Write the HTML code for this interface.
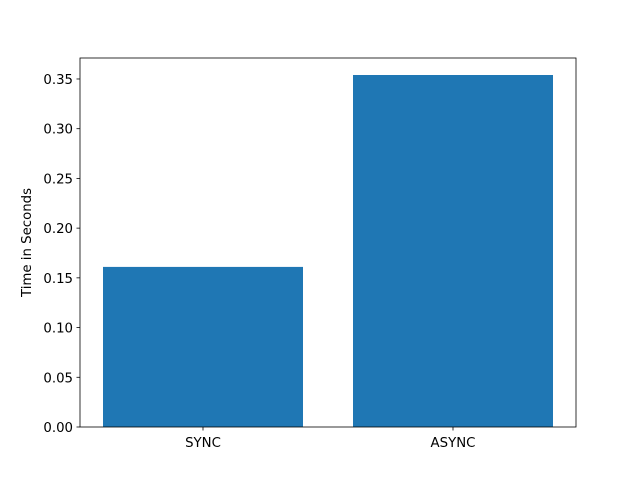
<!DOCTYPE html>
<html><head><meta charset="utf-8"><style>body{margin:0;background:#fff}svg text{font-family:"DejaVu Sans","Liberation Sans",sans-serif;font-size:13.3px;fill:#000}</style></head>
<body>
<svg id="chart" width="640" height="480" xmlns="http://www.w3.org/2000/svg"></svg>
<script>
const categories = ["SYNC", "ASYNC"];
const values = [0.161, 0.354];
const yTicks = [0, 0.05, 0.10, 0.15, 0.20, 0.25, 0.30, 0.35];
const yTickLabels = ["0.00","0.05","0.10","0.15","0.20","0.25","0.30","0.35"];

const svg = document.getElementById('chart');
const NS = 'http://www.w3.org/2000/svg';
const L=80,R=576,T=58,B=427;
const yMax=0.3711, xMin=-0.492, xMax=1.492;
const y = v => B - v/yMax*(B-T);
const x = v => L + (v-xMin)/(xMax-xMin)*(R-L);
function mk(tag, attrs){const e=document.createElementNS(NS,tag);for(const k in attrs)e.setAttribute(k,attrs[k]);svg.appendChild(e);return e;}

values.forEach((v,i)=>{
  const r=mk('rect',{x:x(i-0.4),y:y(v),width:x(i+0.4)-x(i-0.4),height:B-y(v),fill:'#1f77b4'});
  
  
  mk('line',{x1:x(i),x2:x(i),y1:B,y2:B+3.5,stroke:'#000','stroke-width':0.8});
  const t=mk('text',{x:x(i),y:B+20,'text-anchor':'middle'});
  t.textContent=categories[i];
  
  
});
yTicks.forEach((v,i)=>{
  mk('line',{x1:L-3.5,x2:L,y1:y(v),y2:y(v),stroke:'#000','stroke-width':0.8});
  const t=mk('text',{x:L-7,y:y(v)+5,'text-anchor':'end'});
  t.textContent=yTickLabels[i];
  
  
});
const f=mk('rect',{x:L,y:T,width:R-L,height:B-T,fill:'none',stroke:'#000','stroke-width':0.8});


const yl=mk('text',{x:31,y:(T+B)/2,'text-anchor':'middle',transform:`rotate(-90 31 ${(T+B)/2})`});
yl.textContent='Time in Seconds';


</script>
</body></html>
